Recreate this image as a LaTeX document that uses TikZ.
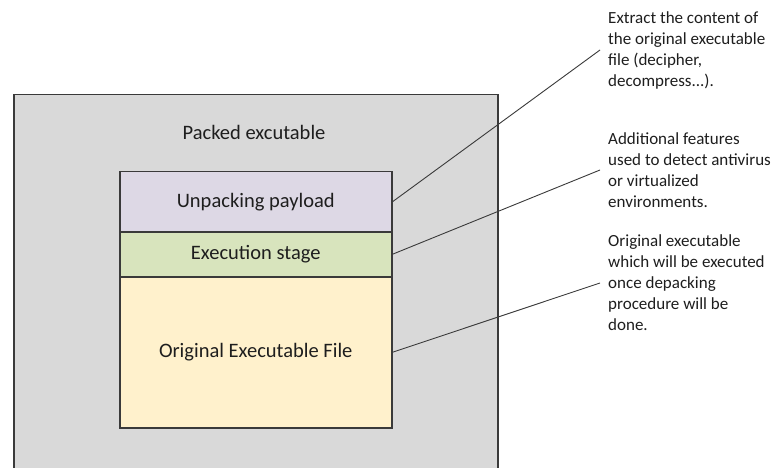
\documentclass[tikz,border=0pt]{standalone}
\usepackage{fontspec}
\setmainfont{Carlito}
\definecolor{packgray}{HTML}{D9D9D9}
\definecolor{lav}{HTML}{DDD8E5}
\definecolor{sage}{HTML}{D8E4BD}
\definecolor{cream}{HTML}{FFF1CC}
\definecolor{edge}{HTML}{3A3A3A}
\definecolor{ink}{HTML}{1E1E1E}
\tikzset{
  outerbox/.style={draw=edge, line width=1.5pt, fill=packgray, inner sep=0pt, anchor=north west},
  sect/.style={draw=edge, line width=1.5pt, inner sep=0pt, anchor=north west, minimum width=272pt, text=ink, font=\fontsize{20.5}{24}\selectfont},
  biglabel/.style={text=ink, font=\fontsize{20.5}{24}\selectfont, inner sep=0pt},
  note/.style={text=ink, inner sep=0pt, anchor=west, align=left, font=\fontsize{17}{21}\selectfont},
  lead/.style={draw=edge, line width=0.9pt}
}
\begin{document}
\begin{tikzpicture}[x=1pt,y=-1pt]
\useasboundingbox (0,0) rectangle (774,468);
\clip (0,0) rectangle (774,468);
\fill[white] (0,0) rectangle (774,468);
\node[outerbox, minimum width=484pt, minimum height=400pt] (packed) at (13,94) {};
\node[biglabel] (packedlabel) at (254,132) {Packed excutable};
\node[sect, fill=lav, minimum height=60pt] (unpack) at (119,171) {Unpacking payload};
\node[sect, fill=sage, minimum height=45pt] (exec) at (119,231) {Execution stage};
\node[sect, fill=cream, minimum height=151pt] (orig) at (119,276) {Original Executable File};
\node[note] (n1) at (608,50) {Extract the content of\\the original executable\\file (decipher,\\decompress...).};
\node[note] (n2) at (608,170) {Additional features\\used to detect antivirus\\or virtualized\\environments.};
\node[note] (n3) at (608,283) {Original executable\\which will be executed\\once depacking\\procedure will be\\done.};
\draw[lead] (unpack.east) -- ([xshift=-8pt]n1.west);
\draw[lead] (exec.east) -- ([xshift=-8pt]n2.west);
\draw[lead] (orig.east) -- ([xshift=-8pt]n3.west);
\end{tikzpicture}
\end{document}
